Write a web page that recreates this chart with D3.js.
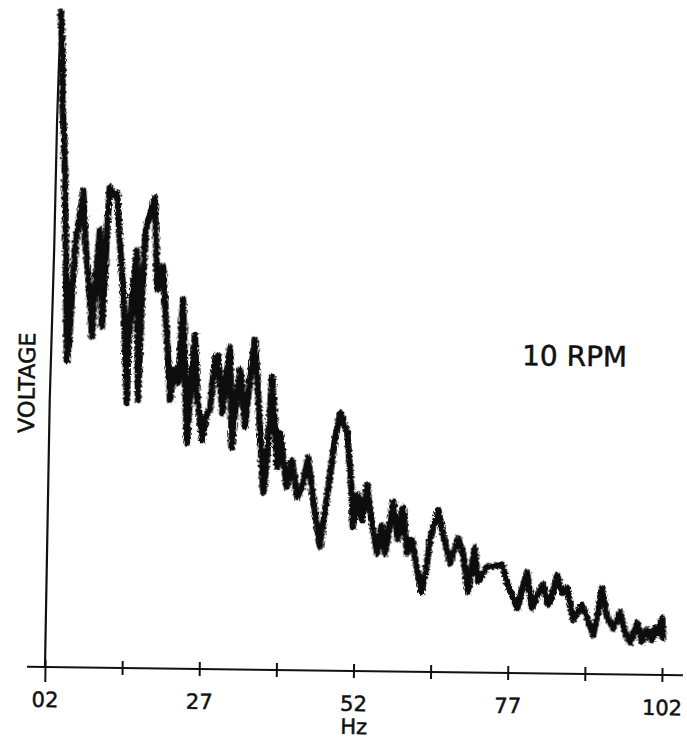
<!DOCTYPE html>
<html>
<head>
<meta charset="utf-8">
<script src="https://cdn.jsdelivr.net/npm/d3@7"></script>
<style>
  html, body { margin: 0; padding: 0; background: #fff; }
  svg { display: block; }
  text { font-family: "DejaVu Sans", sans-serif; fill: #111; stroke: #111; stroke-width: 0.5px; }
</style>
</head>
<body>
<svg id="chart"></svg>
<script>
// --- DATA (frequency in Hz, voltage in arbitrary chart units) ---
const spectrum = [
  [2.0, 0], [2.2, 26.7], [2.6, 41.7], [2.8, 54.7], [3.0, 60.7], [3.2, 65.5],
  [3.6, 60.7], [3.6, 56.7], [4.0, 52.7], [4.5, 41.7], [4.9, 30.7], [5.2, 32.2],
  [5.6, 37.7], [6.1, 42.7], [6.7, 45.2], [7.2, 47.7], [7.6, 42.8], [8.0, 40.3],
  [8.5, 36.8], [8.9, 33.1], [9.3, 37.8], [10.0, 43.8], [10.5, 34.1], [10.9, 39.8],
  [11.3, 45.8], [11.5, 48.1], [12.2, 47.3], [12.7, 47.5], [13.2, 42.8], [14.0, 36.8],
  [14.7, 26.5], [14.8, 31.8], [15.3, 36.8], [16.0, 41.8], [16.5, 26.8], [16.9, 36.8],
  [17.4, 43.8], [18.1, 45.5], [18.8, 47.1], [19.4, 37.9], [20.3, 40.2], [21.1, 32.9],
  [21.7, 26.9], [22.3, 29.9], [23.0, 28.6], [23.6, 36.9], [24.5, 22.6], [25.1, 28.9],
  [25.6, 33.4], [26.1, 27.2], [27.0, 22.9], [27.6, 25.4], [28.2, 25.9], [28.9, 31.2],
  [29.4, 31.4], [30.2, 25.6], [30.7, 28.9], [31.3, 32.2], [31.8, 22.2], [32.4, 27.0],
  [33.0, 30.0], [33.9, 24.3], [34.6, 29.0], [35.3, 33.0], [35.7, 30.0], [37.0, 17.7],
  [37.5, 20.7], [38.2, 29.3], [39.2, 20.3], [39.6, 23.7], [40.8, 18.3], [41.6, 21.0],
  [42.5, 17.3], [43.3, 18.3], [44.2, 21.3], [45.1, 17.1], [46.3, 12.4], [47.5, 18.1],
  [48.5, 23.1], [49.3, 25.8], [50.5, 23.8], [51.4, 17.4], [51.6, 14.4], [52.4, 17.6],
  [53.1, 15.1], [53.8, 18.6], [54.4, 15.8], [55.6, 11.8], [56.3, 14.6], [56.9, 11.8],
  [58.1, 17.0], [58.9, 13.2], [59.7, 16.4], [60.4, 11.9], [61.2, 13.2], [62.1, 10.2],
  [62.9, 8.0], [63.7, 10.9], [64.1, 13.2], [65.4, 16.2], [66.1, 14.2], [67.4, 10.9],
  [68.7, 13.4], [69.5, 11.9], [70.4, 8.1], [71.4, 12.5], [72.0, 9.1], [73.4, 10.6],
  [74.7, 10.7], [75.9, 10.8], [76.7, 9.0], [77.7, 7.6], [78.4, 6.5], [79.1, 8.3],
  [79.9, 10.1], [80.8, 6.5], [81.6, 7.8], [82.5, 8.9], [83.4, 6.9], [84.0, 7.7],
  [84.8, 9.9], [85.6, 8.1], [86.4, 8.6], [87.0, 7.1], [87.5, 5.4], [88.9, 6.9],
  [89.7, 5.7], [90.8, 3.9], [91.5, 6.2], [92.1, 8.6], [93.0, 5.7], [94.0, 4.6],
  [95.1, 6.2], [95.9, 4.3], [96.8, 3.2], [97.9, 5.2], [98.7, 3.3], [99.5, 4.5],
  [100.3, 3.5], [100.8, 4.7], [101.3, 4.2], [101.9, 5.7], [102.1, 3.7]
];
const majorTicks = [2, 27, 52, 77, 102];
const minorTicks = [14.5, 39.5, 64.5, 89.5];
const tickLabels = ["02", "27", "52", "77", "102"];
const xTitle = "Hz";
const yTitle = "VOLTAGE";
const note = "10 RPM";

document.addEventListener("DOMContentLoaded", function() {

    // --- 1. CONFIGURATION ---
    const width = 687, height = 739;
    const svg = d3.select("#chart").attr("width", width).attr("height", height);

    // pen chatter: roughen the edges of the trace a little
    const filter = svg.append("defs").append("filter")
        .attr("id", "chatter")
        .attr("x", "-5%").attr("y", "-5%")
        .attr("width", "110%").attr("height", "110%");
    filter.append("feTurbulence")
        .attr("type", "fractalNoise")
        .attr("baseFrequency", "0.9 0.35")
        .attr("numOctaves", 2)
        .attr("seed", 3)
        .attr("result", "noise");
    filter.append("feDisplacementMap")
        .attr("in", "SourceGraphic")
        .attr("in2", "noise")
        .attr("scale", 5)
        .attr("xChannelSelector", "R")
        .attr("yChannelSelector", "G");

    // the scanned sheet sits slightly tilted, so the whole plot is turned a little
    const g = svg.append("g").attr("transform", "rotate(0.75, 45, 667)");

    const x = d3.scaleLinear().domain([2, 102]).range([45, 662]);
    const y = d3.scaleLinear().domain([0, 65]).range([667, 17]);

    // --- 2. AXIS ---
    g.append("line")
        .attr("x1", 27).attr("x2", 683)
        .attr("y1", y(0)).attr("y2", y(0))
        .attr("stroke", "#111").attr("stroke-width", 2);

    const axis = d3.axisBottom(x)
        .tickValues(majorTicks.concat(minorTicks))
        .tickSize(7)
        .tickFormat(d => {
            const i = majorTicks.indexOf(d);
            return i >= 0 ? tickLabels[i] : "";
        });

    const axisG = g.append("g")
        .attr("transform", `translate(0,${y(0)})`)
        .call(axis);
    axisG.select(".domain").remove();
    axisG.selectAll(".tick line")
        .attr("y1", -7)
        .attr("y2", d => d === 2 ? 15 : 7)
        .attr("stroke", "#111")
        .attr("stroke-width", 2);
    axisG.selectAll(".tick text")
        .attr("y", 40)
        .attr("dy", 0)
        .style("font-size", "21px")
        .style("font-family", "DejaVu Sans");

    g.append("text")
        .attr("x", x(52) + 1)
        .attr("y", y(0) + 63)
        .attr("text-anchor", "middle")
        .style("font-size", "21px")
        .text(xTitle);

    g.append("text")
        .attr("transform", "translate(31,383) rotate(-90)")
        .attr("text-anchor", "middle")
        .style("font-size", "22.5px")
        .text(yTitle);

    g.append("text")
        .attr("x", 518)
        .attr("y", 359)
        .style("font-size", "28px")
        .text(note);

    // --- 3. TRACE ---
    const line = d3.line()
        .x(d => x(d[0]))
        .y(d => y(d[1]));

    // the fast rise off the baseline is drawn as a thin pen stroke
    const rise = spectrum.slice(0, 6);
    const body = spectrum.slice(5);

    g.append("path")
        .datum(rise)
        .attr("d", line)
        .attr("fill", "none")
        .attr("stroke", "#111")
        .attr("stroke-width", 2.2);

    g.append("path")
        .datum(body)
        .attr("d", line)
        .attr("fill", "none")
        .attr("stroke", "#111")
        .attr("stroke-width", 6.5)
        .attr("stroke-linejoin", "round")
        .attr("stroke-linecap", "round")
        .attr("filter", "url(#chatter)");
});
</script>
</body>
</html>
